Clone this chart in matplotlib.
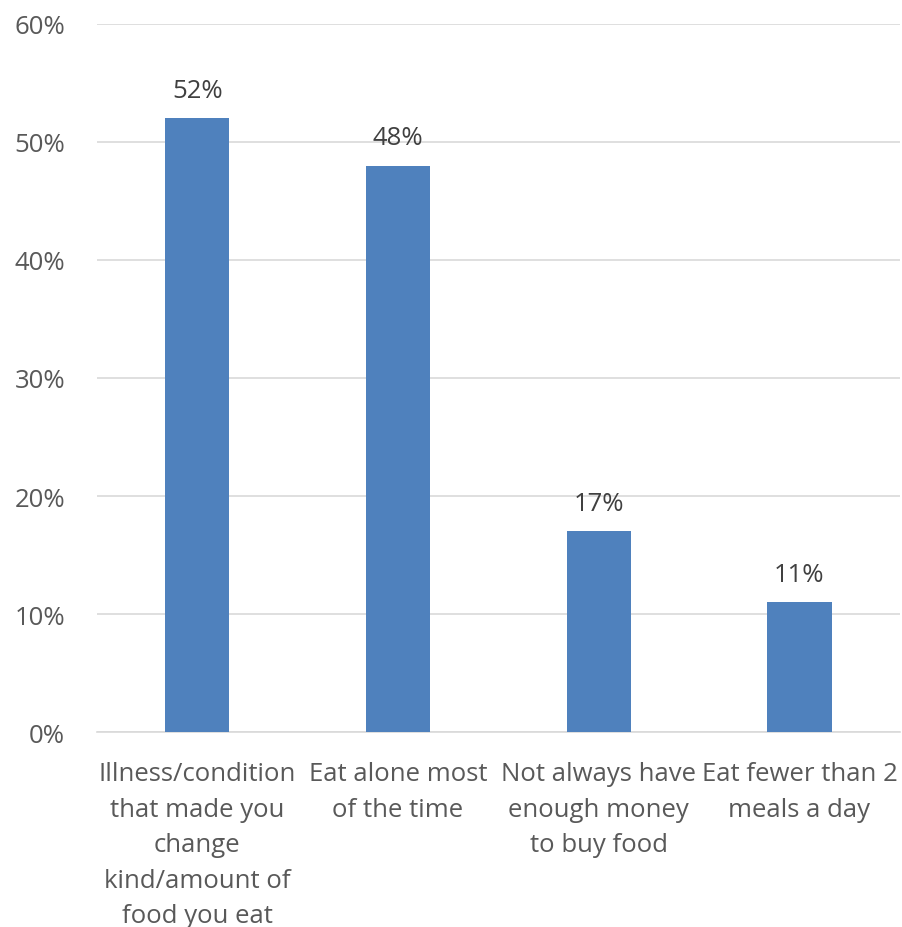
import matplotlib
matplotlib.use("Agg")
import matplotlib.pyplot as plt
from matplotlib.ticker import PercentFormatter

categories = ["Illness/condition\nthat made you\nchange\nkind/amount of\nfood you eat",
              "Eat alone most\nof the time",
              "Not always have\nenough money\nto buy food",
              "Eat fewer than 2\nmeals a day"]
values = [52, 48, 17, 11]
yticks = [0, 10, 20, 30, 40, 50, 60]

plt.rcParams['font.family'] = ['Open Sans', 'DejaVu Sans']
text_color = '#595959'
fs = 18.5

fig = plt.figure(figsize=(9.02, 9.28), dpi=100)
ax = fig.add_axes([0.1075, 0.2101, 0.890, 0.763])

x = list(range(len(categories)))
ax.bar(x, values, width=0.32, color='#4F81BD', zorder=3)
for xi, v in zip(x, values):
    ax.text(xi, v + 1.3, f"{v}%", ha='center', va='bottom', fontsize=fs, color='#404040')

ax.set_xlim(-0.5, len(categories) - 0.5)
ax.set_ylim(0, 60)
ax.set_yticks(yticks)
ax.yaxis.set_major_formatter(PercentFormatter(decimals=0))
ax.set_xticks(x)
ax.set_xticklabels(categories, fontsize=fs, color=text_color, linespacing=1.55)
ax.tick_params(axis='y', labelsize=fs, labelcolor=text_color, length=0, pad=23)
ax.tick_params(axis='x', length=0, pad=21)
ax.grid(axis='y', color='#D9D9D9', linewidth=1.2, zorder=0)
for s in ['top', 'right', 'left']:
    ax.spines[s].set_visible(False)
ax.spines['bottom'].set_color('#D9D9D9')
ax.spines['bottom'].set_linewidth(1.2)

fig.savefig("out.png", dpi=100, facecolor='white')
